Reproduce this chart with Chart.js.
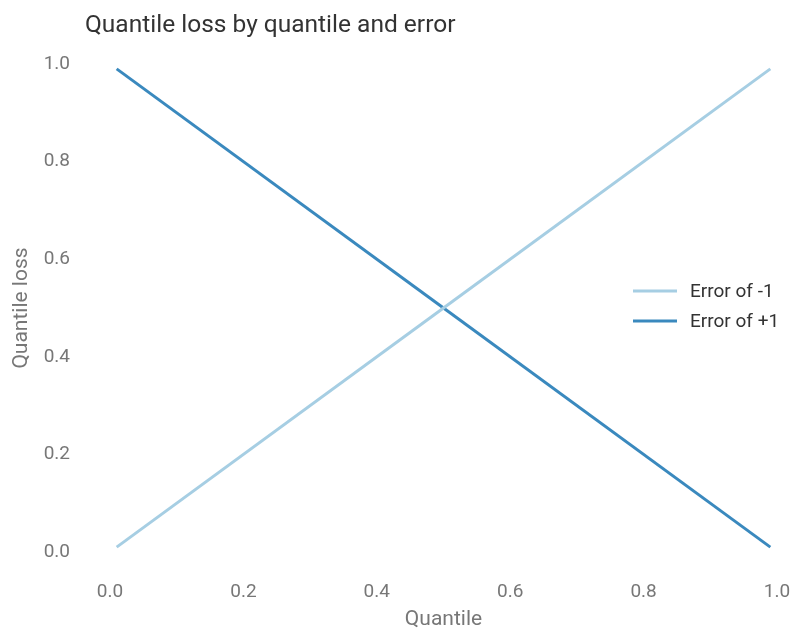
<!DOCTYPE html>
<html>
<head>
<meta charset="utf-8">
<script src="https://cdn.jsdelivr.net/npm/chart.js@4.4.0/dist/chart.umd.min.js"></script>
<style>
  html, body { margin: 0; padding: 0; background: #fff; }
  #wrap { width: 795px; height: 632px; }
</style>
</head>
<body>
<div id="wrap"><canvas id="lossChart"></canvas></div>
<script>
// Data
const quantiles = [0.01, 0.5, 0.99];
const lossErrorMinus1 = [0.01, 0.5, 0.99];
const lossErrorPlus1 = [0.99, 0.5, 0.01];
const tickValues = [0.0, 0.2, 0.4, 0.6, 0.8, 1.0];
const seriesLabels = ["Error of -1", "Error of +1"];

const toPoints = (ys) => quantiles.map((q, i) => ({ x: q, y: ys[i] }));

// title + legend drawn inside the plot, like the original
const overlayPlugin = {
  id: "overlay",
  afterDraw(chart) {
    const ctx = chart.ctx;
    ctx.save();
    ctx.fillStyle = "#333";
    ctx.font = "24.5px Roboto";
    ctx.textBaseline = "alphabetic";
    ctx.textAlign = "left";
    ctx.fillText("Quantile loss by quantile and error", 85, 32);

    ctx.font = "19px Roboto";
    ctx.textBaseline = "middle";
    chart.data.datasets.forEach((ds, i) => {
      const y = 291 + i * 30;
      ctx.strokeStyle = ds.borderColor;
      ctx.lineWidth = 3;
      ctx.beginPath();
      ctx.moveTo(633, y);
      ctx.lineTo(677, y);
      ctx.stroke();
      ctx.fillStyle = "#333";
      ctx.fillText(ds.label, 690, y + 1);
    });
    ctx.restore();
  },
};

const ctx = document.getElementById("lossChart").getContext("2d");
const lossChart = new Chart(ctx, {
  type: "line",
  data: {
    datasets: [
      {
        label: seriesLabels[0],
        data: toPoints(lossErrorMinus1),
        borderColor: "#a6cee3",
        borderWidth: 3,
        pointRadius: 0,
        tension: 0,
      },
      {
        label: seriesLabels[1],
        data: toPoints(lossErrorPlus1),
        borderColor: "#3a89be",
        borderWidth: 3,
        pointRadius: 0,
        tension: 0,
      },
    ],
  },
  options: {
    responsive: true,
    maintainAspectRatio: false,
    animation: false,
    layout: {
      padding: { top: 64, right: 18, left: 0, bottom: 0 },
    },
    scales: {
      x: {
        type: "linear",
        min: 0,
        max: 1,
        afterBuildTicks: (axis) => {
          axis.ticks = tickValues.map((v) => ({ value: v }));
        },
        afterFit: (axis) => {
          axis.height = 80;
          axis.paddingLeft = 0;
          axis.paddingRight = 0;
        },
        grid: { display: false, drawTicks: false },
        border: { display: false },
        ticks: {
          padding: 29,
          color: "#777",
          font: { family: "Roboto", size: 19 },
          callback: (v) => v.toFixed(1),
        },
        title: {
          display: true,
          text: "Quantile",
          color: "#777",
          font: { family: "Roboto", size: 21 },
          padding: { top: 3, bottom: 0 },
        },
      },
      y: {
        min: 0,
        max: 1,
        afterBuildTicks: (axis) => {
          axis.ticks = tickValues.map((v) => ({ value: v }));
        },
        afterFit: (axis) => {
          axis.width = 110;
          axis.paddingTop = 0;
          axis.paddingBottom = 0;
        },
        grid: { display: false, drawTicks: false },
        border: { display: false },
        ticks: {
          padding: 40,
          color: "#777",
          font: { family: "Roboto", size: 19 },
          callback: (v) => v.toFixed(1),
        },
        title: {
          display: true,
          text: "Quantile loss",
          color: "#777",
          font: { family: "Roboto", size: 21 },
          padding: { top: 9, bottom: 8 },
        },
      },
    },
    plugins: {
      legend: { display: false },
      title: { display: false },
      tooltip: { enabled: false },
    },
  },
  plugins: [overlayPlugin],
});
</script>
</body>
</html>
